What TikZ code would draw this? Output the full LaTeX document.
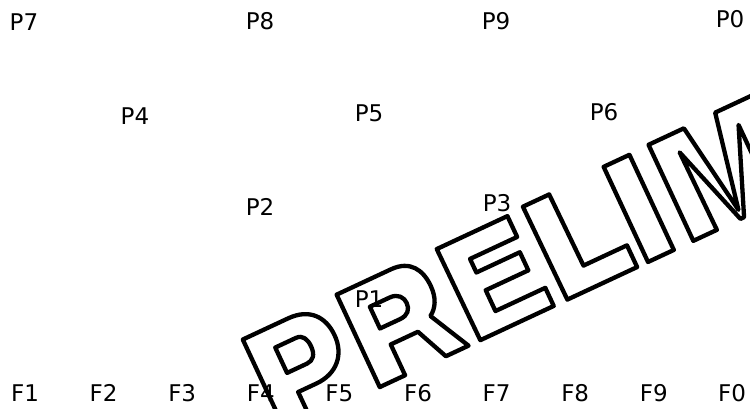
\documentclass[tikz,border=0pt]{standalone}
\usepackage{fontspec}
\setmainfont{DejaVu Sans}
\tikzset{
  lbl/.style={font=\fontsize{23}{23}\selectfont, inner sep=0pt},
  stamp/.style={draw=black, line width=4.3pt, line join=round, line cap=round}
}
\begin{document}
\begin{tikzpicture}[x=1pt,y=1pt]
\useasboundingbox (0,0) rectangle (750,409);
\clip (0,0) rectangle (750,409);
\fill[white] (0,0) rectangle (750,409);

% PRELIMINARY stamp (outlined letters), local frame rotated 25 degrees
\begin{scope}[shift={(648,147)}, rotate=25]
  % P
  \draw[stamp] (-400,0) -- (-400,101) -- (-350,101)
     .. controls (-326,101) and (-315,86) .. (-315,66)
     .. controls (-315,45) and (-329,30) .. (-352,30)
     -- (-372,30) -- (-372,0) -- cycle;
  \draw[stamp] (-374,52) -- (-374,80) -- (-351,80)
     .. controls (-344,80) and (-341,74) .. (-341,66)
     .. controls (-341,57) and (-345,52) .. (-352,52) -- cycle;
  % R
  \draw[stamp] (-296,0) -- (-296,102) -- (-236,102)
     .. controls (-215,102) and (-207,88) .. (-207,70)
     .. controls (-207,57) and (-212,48) .. (-220,43)
     -- (-198,0) -- (-223,0) -- (-238,34) -- (-268,34) -- (-268,0) -- cycle;
  \draw[stamp] (-271,53) -- (-271,77) -- (-249,77)
     .. controls (-240,77) and (-236,71) .. (-236,65)
     .. controls (-236,58) and (-240,53) .. (-249,53) -- cycle;
  % E
  \draw[stamp] (-185,0) -- (-186,101) -- (-108,101) -- (-108,78) -- (-160,78)
     -- (-160,63) -- (-112,63) -- (-112,43) -- (-159,43) -- (-159,20)
     -- (-104,20) -- (-104,0) -- cycle;
  % L
  \draw[stamp] (-89,0) -- (-90,103) -- (-61,103) -- (-60,24) -- (-12,24) -- (-12,0) -- cycle;
  % I
  \draw[stamp] (0,0) rectangle (28.5,105);
  % M
  \draw[stamp] (50,0) -- (50,106) -- (89,106) -- (104,9) -- (124,107) -- (164,107)
     -- (164,0) -- (140,0) -- (140,86) -- (106,0) -- (102,0) -- (75,86) -- (76,0) -- cycle;
\end{scope}

% labels
\node[lbl] (p7) at (24,387) {P7};
\node[lbl] (p8) at (260,387.5) {P8};
\node[lbl] (p9) at (496,388) {P9};
\node[lbl] (p0) at (730,390) {P0};
\node[lbl] (p4) at (135,293) {P4};
\node[lbl] (p5) at (369,296) {P5};
\node[lbl] (p6) at (604,297) {P6};
\node[lbl] (p2) at (260,202) {P2};
\node[lbl] (p3) at (497,206) {P3};
\node[lbl] (p1) at (369,110) {P1};

\node[lbl] (f1) at (25,16) {F1};
\node[lbl] (f2) at (103.6,16) {F2};
\node[lbl] (f3) at (182.2,16) {F3};
\node[lbl] (f4) at (260.8,16) {F4};
\node[lbl] (f5) at (339.4,16) {F5};
\node[lbl] (f6) at (418,16) {F6};
\node[lbl] (f7) at (496.6,16) {F7};
\node[lbl] (f8) at (575.2,16) {F8};
\node[lbl] (f9) at (653.8,16) {F9};
\node[lbl] (f0) at (732,16) {F0};
\end{tikzpicture}
\end{document}
